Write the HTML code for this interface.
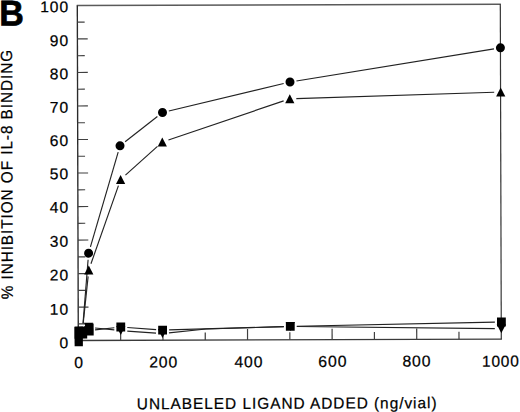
<!DOCTYPE html>
<html><head><meta charset="utf-8"><style>
html,body{margin:0;padding:0;background:#fff;}
body{width:520px;height:412px;overflow:hidden;}
svg{display:block;font-family:"Liberation Sans", sans-serif;}
</style></head><body>
<svg width="520" height="412" viewBox="0 0 520 412">
<g transform="rotate(-0.17 289.5 172.5)">
<line x1="77.2" y1="4.85" x2="501.40000000000003" y2="4.85" stroke="#5a5a5a" stroke-width="1.5"/>
<line x1="77.2" y1="339.85" x2="501.40000000000003" y2="339.85" stroke="#3a3a3a" stroke-width="1.3"/>
<line x1="77.8" y1="4.85" x2="77.8" y2="339.85" stroke="#2a2a2a" stroke-width="1.35"/>
<line x1="500.8" y1="4.85" x2="500.8" y2="339.85" stroke="#363636" stroke-width="1.2"/>
<line x1="77.8" y1="323.19" x2="85.1" y2="323.19" stroke="#404040" stroke-width="1.2"/>
<line x1="77.8" y1="306.44" x2="88.1" y2="306.44" stroke="#404040" stroke-width="1.2"/>
<line x1="77.8" y1="289.68" x2="85.1" y2="289.68" stroke="#404040" stroke-width="1.2"/>
<line x1="77.8" y1="272.93" x2="88.1" y2="272.93" stroke="#404040" stroke-width="1.2"/>
<line x1="77.8" y1="256.17" x2="85.1" y2="256.17" stroke="#404040" stroke-width="1.2"/>
<line x1="77.8" y1="239.41" x2="88.1" y2="239.41" stroke="#404040" stroke-width="1.2"/>
<line x1="77.8" y1="222.66" x2="85.1" y2="222.66" stroke="#404040" stroke-width="1.2"/>
<line x1="77.8" y1="205.90" x2="88.1" y2="205.90" stroke="#404040" stroke-width="1.2"/>
<line x1="77.8" y1="189.15" x2="85.1" y2="189.15" stroke="#404040" stroke-width="1.2"/>
<line x1="77.8" y1="172.39" x2="88.1" y2="172.39" stroke="#404040" stroke-width="1.2"/>
<line x1="77.8" y1="155.63" x2="85.1" y2="155.63" stroke="#404040" stroke-width="1.2"/>
<line x1="77.8" y1="138.88" x2="88.1" y2="138.88" stroke="#404040" stroke-width="1.2"/>
<line x1="77.8" y1="122.12" x2="85.1" y2="122.12" stroke="#404040" stroke-width="1.2"/>
<line x1="77.8" y1="105.37" x2="88.1" y2="105.37" stroke="#404040" stroke-width="1.2"/>
<line x1="77.8" y1="88.61" x2="85.1" y2="88.61" stroke="#404040" stroke-width="1.2"/>
<line x1="77.8" y1="71.85" x2="88.1" y2="71.85" stroke="#404040" stroke-width="1.2"/>
<line x1="77.8" y1="55.10" x2="85.1" y2="55.10" stroke="#404040" stroke-width="1.2"/>
<line x1="77.8" y1="38.34" x2="88.1" y2="38.34" stroke="#404040" stroke-width="1.2"/>
<line x1="77.8" y1="21.59" x2="85.1" y2="21.59" stroke="#404040" stroke-width="1.2"/>
<line x1="120.19" y1="339.85" x2="120.19" y2="332.25" stroke="#404040" stroke-width="1.2"/>
<line x1="162.48" y1="339.85" x2="162.48" y2="328.85" stroke="#404040" stroke-width="1.2"/>
<line x1="204.77" y1="339.85" x2="204.77" y2="332.25" stroke="#404040" stroke-width="1.2"/>
<line x1="247.06" y1="339.85" x2="247.06" y2="328.85" stroke="#404040" stroke-width="1.2"/>
<line x1="289.35" y1="339.85" x2="289.35" y2="332.25" stroke="#404040" stroke-width="1.2"/>
<line x1="331.64" y1="339.85" x2="331.64" y2="328.85" stroke="#404040" stroke-width="1.2"/>
<line x1="373.93" y1="339.85" x2="373.93" y2="332.25" stroke="#404040" stroke-width="1.2"/>
<line x1="416.22" y1="339.85" x2="416.22" y2="328.85" stroke="#404040" stroke-width="1.2"/>
<line x1="458.51" y1="339.85" x2="458.51" y2="332.25" stroke="#404040" stroke-width="1.2"/>
<text transform="translate(40.826 11.548) scale(0.15600 0.15493)" font-size="100" letter-spacing="5.500" fill="#000" stroke="#000" stroke-width="1.415">100</text>
<text transform="translate(50.242 45.362) scale(0.15600 0.15493)" font-size="100" letter-spacing="5.500" fill="#000" stroke="#000" stroke-width="1.415">90</text>
<text transform="translate(50.144 78.562) scale(0.15600 0.15493)" font-size="100" letter-spacing="5.500" fill="#000" stroke="#000" stroke-width="1.415">80</text>
<text transform="translate(50.044 112.061) scale(0.15600 0.15493)" font-size="100" letter-spacing="5.500" fill="#000" stroke="#000" stroke-width="1.415">70</text>
<text transform="translate(49.945 145.361) scale(0.15600 0.15493)" font-size="100" letter-spacing="5.500" fill="#000" stroke="#000" stroke-width="1.415">60</text>
<text transform="translate(49.847 178.561) scale(0.15600 0.15493)" font-size="100" letter-spacing="5.500" fill="#000" stroke="#000" stroke-width="1.415">50</text>
<text transform="translate(49.747 212.060) scale(0.15600 0.15493)" font-size="100" letter-spacing="5.500" fill="#000" stroke="#000" stroke-width="1.415">40</text>
<text transform="translate(49.647 246.061) scale(0.15600 0.15493)" font-size="100" letter-spacing="5.500" fill="#000" stroke="#000" stroke-width="1.415">30</text>
<text transform="translate(49.546 279.861) scale(0.15600 0.15493)" font-size="100" letter-spacing="5.500" fill="#000" stroke="#000" stroke-width="1.415">20</text>
<text transform="translate(49.445 313.961) scale(0.15600 0.15493)" font-size="100" letter-spacing="5.500" fill="#000" stroke="#000" stroke-width="1.415">10</text>
<text transform="translate(58.862 347.474) scale(0.15600 0.15493)" font-size="100" letter-spacing="5.500" fill="#000" stroke="#000" stroke-width="1.415">0</text>
<text transform="translate(73.605 367.416) scale(0.15789 0.15775)" font-size="100" letter-spacing="5.500" fill="#000" stroke="#000" stroke-width="1.394">0</text>
<text transform="translate(148.549 367.167) scale(0.15786 0.15775)" font-size="100" letter-spacing="5.500" fill="#000" stroke="#000" stroke-width="1.394">200</text>
<text transform="translate(233.845 367.119) scale(0.15731 0.15775)" font-size="100" letter-spacing="5.500" fill="#000" stroke="#000" stroke-width="1.397">400</text>
<text transform="translate(317.747 366.969) scale(0.15846 0.15775)" font-size="100" letter-spacing="5.500" fill="#000" stroke="#000" stroke-width="1.392">600</text>
<text transform="translate(401.829 366.918) scale(0.15799 0.15775)" font-size="100" letter-spacing="5.500" fill="#000" stroke="#000" stroke-width="1.394">800</text>
<text transform="translate(481.379 367.268) scale(0.15473 0.15775)" font-size="100" letter-spacing="5.500" fill="#000" stroke="#000" stroke-width="1.408">1000</text>
<line x1="82.57" y1="322.91" x2="87.83" y2="259.08" stroke="#222" stroke-width="1.15"/>
<line x1="90.20" y1="246.37" x2="118.24" y2="151.53" stroke="#222" stroke-width="1.15"/>
<line x1="125.21" y1="141.30" x2="157.55" y2="116.12" stroke="#222" stroke-width="1.15"/>
<line x1="169.00" y1="110.63" x2="283.94" y2="83.50" stroke="#222" stroke-width="1.15"/>
<line x1="296.69" y1="80.98" x2="494.35" y2="49.45" stroke="#222" stroke-width="1.15"/>
<line x1="82.73" y1="322.92" x2="87.82" y2="275.77" stroke="#222" stroke-width="1.15"/>
<line x1="90.69" y1="263.18" x2="118.40" y2="185.12" stroke="#222" stroke-width="1.15"/>
<line x1="125.43" y1="174.67" x2="157.54" y2="146.05" stroke="#222" stroke-width="1.15"/>
<line x1="168.55" y1="139.65" x2="283.86" y2="100.87" stroke="#222" stroke-width="1.15"/>
<line x1="296.52" y1="98.61" x2="494.44" y2="92.82" stroke="#222" stroke-width="1.15"/>
<line x1="94.59" y1="329.30" x2="113.88" y2="327.20" stroke="#222" stroke-width="1.15"/>
<line x1="126.82" y1="327.00" x2="155.65" y2="329.22" stroke="#222" stroke-width="1.15"/>
<line x1="168.63" y1="329.55" x2="283.35" y2="326.57" stroke="#222" stroke-width="1.15"/>
<line x1="296.34" y1="326.29" x2="494.46" y2="322.74" stroke="#222" stroke-width="1.15"/>
<line x1="94.61" y1="327.39" x2="113.87" y2="329.42" stroke="#222" stroke-width="1.15"/>
<line x1="126.81" y1="330.58" x2="155.54" y2="332.74" stroke="#222" stroke-width="1.15"/>
<polyline points="168.49,332.56 205.54,328.75 283.35,326.58" fill="none" stroke="#222" stroke-width="1.15"/>
<line x1="296.34" y1="326.49" x2="494.34" y2="329.24" stroke="#222" stroke-width="1.15"/>
<circle cx="88.36" cy="252.60" r="4.5" fill="#000"/>
<circle cx="120.08" cy="145.30" r="4.5" fill="#000"/>
<circle cx="162.68" cy="112.12" r="4.5" fill="#000"/>
<circle cx="290.27" cy="82.00" r="4.5" fill="#000"/>
<circle cx="500.77" cy="48.43" r="4.5" fill="#000"/>
<path d="M88.51 264.80 L93.11 273.80 L83.91 273.80Z" fill="#000"/>
<path d="M120.58 174.50 L125.18 183.50 L115.98 183.50Z" fill="#000"/>
<path d="M162.39 137.22 L166.99 146.22 L157.79 146.22Z" fill="#000"/>
<path d="M290.02 94.30 L294.62 103.30 L285.42 103.30Z" fill="#000"/>
<path d="M500.94 88.13 L505.54 97.13 L496.34 97.13Z" fill="#000"/>
<path d="M83.54 322.20 L92.74 322.20 L88.14 331.20Z" fill="#000"/>
<path d="M115.73 325.60 L124.93 325.60 L120.33 334.60Z" fill="#000"/>
<path d="M157.42 328.72 L166.62 328.72 L162.02 337.72Z" fill="#000"/>
<path d="M285.24 321.90 L294.44 321.90 L289.84 330.90Z" fill="#000"/>
<path d="M496.24 324.83 L505.44 324.83 L500.84 333.83Z" fill="#000"/>
<rect x="83.73" y="325.60" width="8.8" height="8.8" fill="#000"/>
<rect x="115.94" y="322.10" width="8.8" height="8.8" fill="#000"/>
<rect x="157.73" y="325.32" width="8.8" height="8.8" fill="#000"/>
<rect x="285.44" y="322.00" width="8.8" height="8.8" fill="#000"/>
<rect x="496.56" y="318.23" width="8.8" height="8.8" fill="#000"/>
<rect x="74.1" y="326" width="8.3" height="19.6" fill="#000"/>
<rect x="74.1" y="326" width="12.6" height="12" fill="#000"/>
<rect x="84.6" y="322.8" width="8.6" height="12.2" fill="#000"/>
<text transform="translate(136.141 408.749) scale(0.15430 0.15797)" font-size="100" letter-spacing="6.200" fill="#000" stroke="#000" stroke-width="1.409">UNLABELED LIGAND ADDED (ng/vial)</text>
<text transform="translate(12.426 298.515) rotate(-90) scale(0.15334 0.16232)" font-size="100" letter-spacing="6.200" fill="#000" stroke="#000" stroke-width="1.394">% INHIBITION OF IL-8 BINDING</text>
<text transform="translate(-0.293 24.727) scale(0.34098 0.35797)" font-size="100" font-weight="bold" fill="#000" stroke="#000" stroke-width="2.003">B</text>
</g>
</svg>
</body></html>
